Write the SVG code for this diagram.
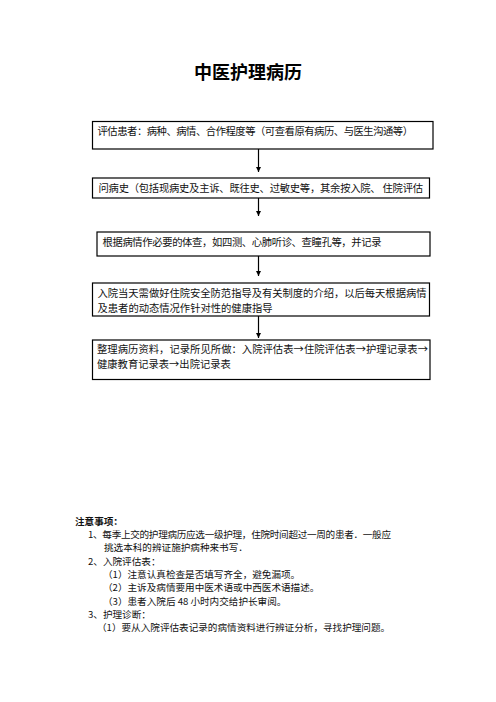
<svg xmlns="http://www.w3.org/2000/svg" width="496" height="702" viewBox="0 0 496 702">
<style>
.box{fill:#fff;stroke:#000;stroke-width:1.2}
.t{font-family:"Noto Sans CJK SC","Liberation Serif",serif;font-size:10.3px;fill:#111}
.n{font-family:"Noto Sans CJK SC","Liberation Serif",serif;font-size:9.6px;fill:#111}
.ttl{font-family:"Noto Sans CJK SC","Liberation Sans",sans-serif;font-size:18px;font-weight:bold;fill:#000}
.c{stroke:#000;stroke-width:1.2;fill:none}
</style>
<defs>
<marker id="ah" viewBox="0 0 10 10" refX="10" refY="5" markerWidth="5" markerHeight="5" orient="auto" markerUnits="userSpaceOnUse">
<path d="M0,0 L10,5 L0,10 z" fill="#000"/>
</marker>
</defs>
<rect width="496" height="702" fill="#fff"/>
<text class="ttl" x="248" y="78.5" text-anchor="middle">中医护理病历</text>
<g id="connectors">
<line class="c" x1="258.5" y1="149" x2="258.5" y2="172" marker-end="url(#ah)"/>
<line class="c" x1="258.5" y1="198" x2="258.5" y2="216" marker-end="url(#ah)"/>
<line class="c" x1="258.5" y1="256" x2="258.5" y2="276" marker-end="url(#ah)"/>
<line class="c" x1="258.5" y1="316" x2="258.5" y2="338" marker-end="url(#ah)"/>
</g>
<g id="n1">
<rect class="box" x="92.5" y="121.5" width="340.5" height="27.5"/>
<text class="t" x="97.5" y="134.6" textLength="315.5" lengthAdjust="spacing">评估患者：病种、病情、合作程度等（可查看原有病历、与医生沟通等）</text>
</g>
<g id="n2">
<rect class="box" x="92.5" y="178" width="337" height="20"/>
<text class="t" x="98.5" y="191.9" textLength="324.5" lengthAdjust="spacing">问病史（包括现病史及主诉、既往史、过敏史等，其余按入院、 住院评估</text>
</g>
<g id="n3">
<rect class="box" x="97" y="232" width="333" height="24"/>
<text class="t" x="102.5" y="245.9" textLength="279" lengthAdjust="spacing">根据病情作必要的体查，如四测、心肺听诊、查瞳孔等，并记录</text>
</g>
<g id="n4">
<rect class="box" x="92.5" y="283" width="337" height="33"/>
<text class="t" x="97.5" y="297.2" textLength="329" lengthAdjust="spacing">入院当天需做好住院安全防范指导及有关制度的介绍，以后每天根据病情</text>
<text class="t" x="97.5" y="312.2">及患者的动态情况作针对性的健康指导</text>
</g>
<g id="n5">
<rect class="box" x="92.5" y="340" width="337.5" height="39.5"/>
<text class="t" x="97" y="353.4" textLength="331" lengthAdjust="spacing">整理病历资料，记录所见所做：入院评估表→住院评估表→护理记录表→</text>
<text class="t" x="97" y="368.4">健康教育记录表→出院记录表</text>
</g>
<g id="notes">
<text class="n" x="75" y="524.6" font-weight="bold">注意事项：</text>
<text class="n" x="88" y="538" textLength="303" lengthAdjust="spacing">1、每季上交的护理病历应选一级护理，住院时间超过一周的患者．一般应</text>
<text class="n" x="104" y="551.3">挑选本科的辨证施护病种来书写．</text>
<text class="n" x="88" y="564.6">2、入院评估表：</text>
<text class="n" x="103" y="577.9">（1）注意认真检查是否填写齐全，避免漏项。</text>
<text class="n" x="103" y="591.2">（2）主诉及病情要用中医术语或中西医术语描述。</text>
<text class="n" x="103" y="604.5">（3）患者入院后 48 小时内交给护长审阅。</text>
<text class="n" x="88" y="617.8">3、护理诊断：</text>
<text class="n" x="97" y="631.1">（1）要从入院评估表记录的病情资料进行辨证分析，寻找护理问题。</text>
</g>
</svg>
